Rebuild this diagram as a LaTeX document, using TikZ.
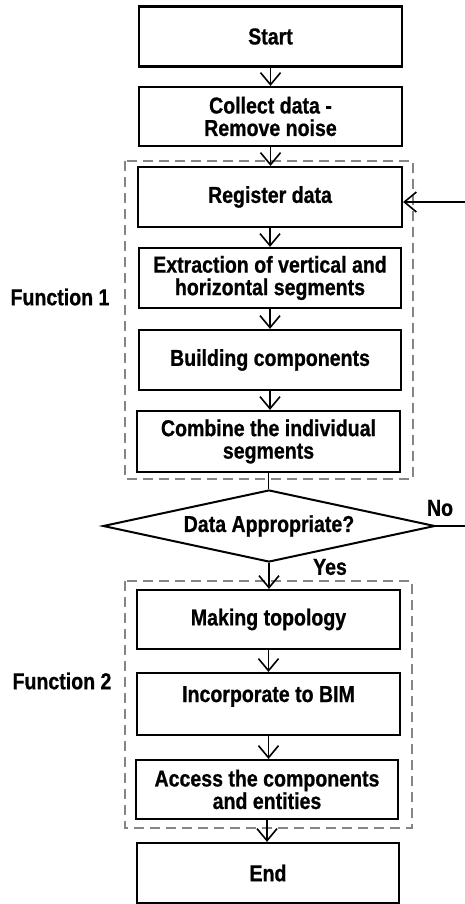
\documentclass[tikz,border=0pt]{standalone}
\usepackage{fontspec}
\newfontfamily\diagfont{Liberation Sans}[FakeStretch=0.85,FakeBold=0.8]
\usetikzlibrary{arrows.meta,shapes.geometric}
\begin{document}
\begin{tikzpicture}[x=1pt,y=-1pt,
  txt/.style={font=\diagfont\bfseries\fontsize{23}{22.5}\selectfont, align=center},
  stepbox/.style={txt, draw=black, line width=2.2pt, minimum width=263pt, minimum height=60pt, inner sep=0pt},
  dia/.style={txt, draw=black, shape=diamond, line width=2pt, minimum width=332pt, minimum height=72pt, inner sep=0pt, shape aspect=4.6},
  grp/.style={draw=black!48, line width=2.2pt, dash pattern=on 10pt off 6pt},
  conn/.style={line width=1.6pt},
  arr/.style={conn, -{Straight Barb[length=12pt,width=20pt]}},
]
\useasboundingbox (0,0) rectangle (465,904);

% groups
\draw[grp] (125,161) rectangle (413,479);
\draw[grp] (125,581) rectangle (412,828);

% boxes
\node[stepbox] (start) at (270.5,36.5) {Start};
\node[stepbox, minimum height=59pt] (collect) at (270.5,116.5) {Collect data -\\Remove noise};
\node[stepbox, minimum width=264pt] (reg) at (270,197) {Register data};
\node[stepbox, minimum width=262pt] (extr) at (270,278) {Extraction of vertical and\\horizontal segments};
\node[stepbox, minimum width=262pt] (build) at (270,360) {Building components};
\node[stepbox, minimum height=61pt] (comb) at (268.5,441.5) {Combine the individual\\segments};
\node[dia] (dec) at (269,526) {Data Appropriate?};
\node[stepbox, minimum height=59pt] (topo) at (268.5,619.5) {Making topology};
\node[stepbox, minimum height=62pt, text height=20pt, text depth=24pt] (bim) at (268.5,704) {Incorporate to BIM};
\node[stepbox, minimum width=262pt, minimum height=59pt] (acc) at (267,789.5) {Access the components\\and entities};
\node[stepbox, minimum width=262pt] (fin) at (268,873) {End};

% labels
\node[txt] (f1) at (60,297) {Function 1};
\node[txt] (f2) at (62,681) {Function 2};
\node[txt] (no) at (440,508) {No};
\node[txt] (yes) at (330,567) {Yes};

% connectors
\draw[arr] (start.south) -- (start.south |- collect.north);
\draw[arr] (collect.south) -- (collect.south |- reg.north);
\draw[arr] (reg.south) -- (reg.south |- extr.north);
\draw[arr] (extr.south) -- (extr.south |- build.north);
\draw[arr] (build.south) -- (build.south |- comb.north);
\draw[conn] (comb.south) -- (comb.south |- dec.north);
\draw[arr] (dec.south) -- (dec.south |- topo.north);
\draw[arr] (topo.south) -- (topo.south |- bim.north);
\draw[arr] (bim.south) -- (bim.south |- acc.north);
\draw[arr] (acc.south) -- (acc.south |- fin.north);

% feedback loop (vertical part lies beyond the right edge)
\coordinate (noEnd) at (465,526);
\coordinate (fbIn) at (465,202);
\draw[conn] (dec.east) -- (noEnd);
\draw[arr] (fbIn) -- (reg.east |- fbIn);
\end{tikzpicture}
\end{document}
